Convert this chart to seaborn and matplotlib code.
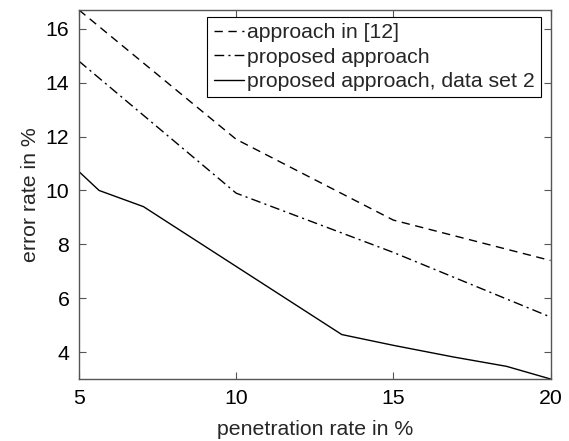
import matplotlib
matplotlib.use("Agg")
import matplotlib.pyplot as plt
import seaborn as sns
import pandas as pd

# data
x_ref = [5, 10, 15, 20]
y_ref = [16.7, 11.9, 8.9, 7.4]

x_prop = [5, 10, 15, 20]
y_prop = [14.8, 9.9, 7.7, 5.3]

x_ds2 = [5, 5.64, 7.05, 13.36, 15, 16.9, 18.6, 20]
y_ds2 = [10.7, 10.0, 9.4, 4.65, 4.25, 3.82, 3.47, 3.0]

labels = ["approach in [12]", "proposed approach", "proposed approach, data set 2"]
x_ticks = [5, 10, 15, 20]
y_ticks = [4, 6, 8, 10, 12, 14, 16]

sns.set_style("ticks")
plt.rcParams["font.family"] = ["Liberation Sans", "DejaVu Sans"]
FS = 15.3
plt.rcParams["font.size"] = FS

fig = plt.figure(figsize=(5.69, 4.41), dpi=100)
ax = fig.add_axes([0.1388, 0.1406, 0.9675 - 0.1388, 0.9773 - 0.1406])

series = [(x_ref, y_ref, (0, (6, 4))), (x_prop, y_prop, (0, (7, 3, 1.5, 3))), (x_ds2, y_ds2, "-")]
for (xs, ys, ls), lab in zip(series, labels):
    df = pd.DataFrame({"x": xs, "y": ys})
    sns.lineplot(data=df, x="x", y="y", ax=ax, color="black", linewidth=1.0,
                 linestyle=ls, label=lab, sort=False)

ax.set_xlim(5, 20)
ax.set_ylim(3, 16.7)
ax.set_xticks(x_ticks)
ax.set_yticks(y_ticks)
ax.set_xlabel("penetration rate in %", fontsize=FS, labelpad=9)
ax.set_ylabel("error rate in %", fontsize=FS, labelpad=4)
ax.tick_params(direction="in", length=5, width=0.8, top=True, right=True,
               labelsize=FS, colors="#555555", labelcolor="black", pad=7)
for s in ax.spines.values():
    s.set_visible(True)
    s.set_color("#555555")
    s.set_linewidth(1.0)

leg = ax.legend(loc="upper right", bbox_to_anchor=(0.98, 0.981), borderaxespad=0,
                fancybox=False, frameon=True, edgecolor="black", framealpha=1,
                handlelength=1.45, handletextpad=0.12, borderpad=0.3, labelspacing=0.25,
                fontsize=FS)
leg.get_frame().set_linewidth(0.8)

fig.savefig("out.png", dpi=100)
